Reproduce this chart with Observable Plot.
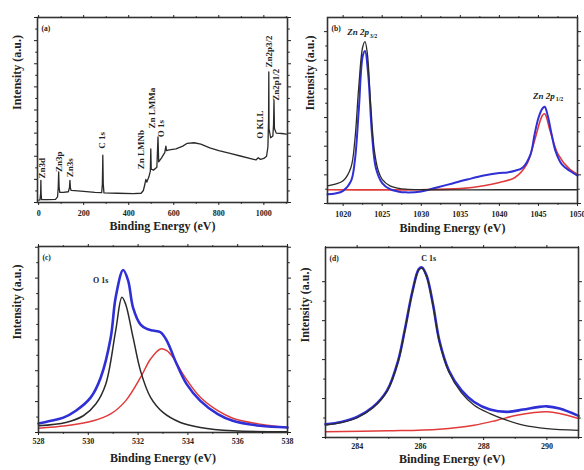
<!DOCTYPE html>
<html><head><meta charset="utf-8">
<script src="https://cdn.jsdelivr.net/npm/d3@7"></script>
<script src="https://cdn.jsdelivr.net/npm/@observablehq/plot@0.6"></script>
<style>
body{margin:0;background:#fff;}
#wrap{position:relative;width:584px;height:470px;overflow:hidden;background:#fff;}
.panel{position:absolute;}
#wrap svg, #wrap svg text{font-family:"Liberation Serif","DejaVu Serif","Times New Roman",serif !important;}
</style></head><body><div id="wrap"></div>
<script>
// ---------- (a) survey ----------
const surveyEV = [0,6,9,10,11,13,40,75,84,87,89,91,94,110,132,137,139,141,144,160,200,250,280,283,285,287,290,350,420,455,465,472,476,480,490,496,498,500,510,525,530,533,545,560,565,568,580,610,640,660,690,720,760,800,850,900,950,965,975,985,1000,1012,1018,1021,1022,1023,1030,1040,1043,1045,1047,1055,1080,1100];
const surveyI  = [1.3,1.4,5,12,5,1.6,1.5,1.7,3,8,16.6,8,5.5,5.5,5.8,8,12,8,6.5,6.4,6,5.5,5.3,10,25.6,10,5.2,5,4.8,5,6.5,10,12.5,11,14,17,29,18,17.5,19,35.5,22,24,27,30.5,28,28.5,29,30.5,32,32.3,31.5,29.5,28,26.5,25,23.5,23,24.2,23.3,23.8,25,30,45,70.6,40,35,36,42,55.3,40,37.5,37.3,37];
const surveyLabels = ["Zn3d","Zn3p","Zn3s","C 1s","Zn LMNb","Zn LMMa","O 1s","O KLL","Zn2p3/2","Zn2p1/2"];
const surveyLabelEV = [17,93,140,282,453,505,545,983,1022,1053];
const surveyLabelI  = [13,16.5,13.7,29,18,40,35.3,34.5,73,55];

// ---------- (b) Zn 2p ----------
const znBlueEV = [1018,1019,1020,1021,1021.5,1022,1022.5,1022.8,1023.2,1023.7,1024.2,1025,1026,1027,1028,1030,1032,1034,1036,1038,1040,1041,1042,1043,1044,1044.5,1045,1045.5,1045.8,1046.2,1046.7,1047.2,1048,1049,1050];
const znBlueI  = [5,5.4,6.8,12,23,50,79,82,70,37,19,11,7.7,6.5,6,6.5,8.6,10.8,13,15,16.4,16.7,17.6,19.4,26.6,37,46,51,52,47,37,28,21,17.6,15];
const znBlackEV = [1018,1019,1020,1021,1021.5,1022,1022.5,1022.8,1023.1,1023.5,1024,1024.5,1025,1026,1027,1028,1030,1040,1050];
const znBlackI  = [9.5,10.4,12.2,19.4,34,62.6,84,87,80.6,55,28.4,17.6,13,9.5,8.3,7.7,7.4,7.4,7.4];
const znRedEV = [1018,1030,1035,1038,1040,1042,1043.5,1044.5,1045.5,1045.8,1046.5,1047.5,1049,1050];
const znRedI  = [7.4,7.4,8,9.5,11.3,14,21,33.8,47.3,48.2,39,26.6,18.5,15.8];

// ---------- (c) O 1s ----------
const oBlueEV = [528,528.5,529,529.5,530.1,530.5,530.9,531.1,531.4,531.6,531.8,532.1,532.35,532.6,532.9,533.15,533.55,533.95,534.5,535.2,535.8,536.9,538];
const oBlueI  = [4.8,6.3,8,11.7,18.9,29.6,51,72.7,87.4,81.7,67,58,55.7,54.8,53.9,49.4,36.8,26,17,9.9,6.3,3.6,2.7];
const oBlackEV = [528,529.1,529.8,530.3,530.7,531.1,531.35,531.5,531.8,532.1,532.5,533,533.7,534.5,535.8,538];
const oBlackI  = [3.6,5.4,9,15.3,26,54.8,72.7,69,51,33,18.9,10.8,5.4,2.7,0.9,0.4];
const oRedEV = [528,529.1,530.2,530.9,531.5,532.1,532.5,532.9,533.15,533.4,533.8,534.5,535.2,535.8,536.9,538];
const oRedI  = [2.3,3.6,6.3,10,17,29.6,39.5,44.9,44,40.4,31.4,18.9,11.7,7.7,4.5,2.7];

// ---------- (d) C 1s ----------
const cBlueEV = [283,283.5,284,284.5,284.95,285.3,285.5,285.75,285.95,286.05,286.2,286.4,286.6,286.9,287.3,287.7,288.2,288.75,289.25,289.7,290,290.4,291];
const cBlueI  = [7,8.2,10.8,16,24.8,40.6,56,77,88.6,89.5,85,70,51,35.3,24.8,18.7,14.7,13.5,14.7,16,16.4,15.2,11.4];
const cBlackEV = [283,283.5,284,284.5,284.95,285.3,285.5,285.75,285.95,286.05,286.2,286.4,286.6,286.9,287.3,287.7,288.2,288.75,289.25,290,291];
const cBlackI  = [6.5,7.8,10.4,15.6,24.4,40.2,55.6,76.6,88.2,89.1,84.6,69.6,50.6,34.5,23.5,17,12.6,9,6.5,4.7,3.8];
const cRedEV = [283,285,286.6,287.7,288.4,289.05,289.6,290,290.4,291];
const cRedI  = [3,3.5,4.4,6.5,9,11.7,13.1,13.5,12.6,10];

// ---------- tick labels ----------
const aTicks = [0,200,400,600,800,1000], aMinor = [100,300,500,700,900,1100];
const bTicks = [1020,1025,1030,1035,1040,1045,1050], bMinor = [1022.5,1027.5,1032.5,1037.5,1042.5,1047.5];
const cTicks = [528,530,532,534,536,538], cMinor = [529,531,533,535,537];
const dTicks = [284,286,288,290], dMinor = [283,285,287,289,291];

const FONT = '"Liberation Serif","DejaVu Serif","Times New Roman",serif';
const BLUE = "#2f2fd6", RED = "#e03a3a", BLACK = "#2a2a2a";
const zip = (xs, ys) => xs.map((x, i) => ({x, y: ys[i]}));

function panel(o) {
  const yMajor = d3.range(0, 100.01, o.yStep);
  const yMinor = yMajor.slice(0, -1).map(v => v + o.yStep / 2);
  const blank = () => "";
  const marks = [
    ...o.curves.map(c => Plot.line(c.data, {x: "x", y: "y", stroke: c.color, strokeWidth: c.w, curve: c.curve || "catmull-rom"})),
    Plot.frame({stroke: "#333", strokeWidth: 1.6}),
    Plot.axisX(o.xTicks, {anchor: "bottom", tickSize: 3, tickPadding: o.tickPad, label: null, fontSize: 8, fontWeight: "bold", tickFormat: d => String(d), fontFamily: FONT}),
    Plot.axisX(o.xMinor, {anchor: "bottom", tickSize: 1.8, tickFormat: blank, label: null}),
    Plot.axisX(o.xTicks, {anchor: "top", tickSize: 3, tickFormat: blank, label: null}),
    Plot.axisX(o.xMinor, {anchor: "top", tickSize: 1.8, tickFormat: blank, label: null}),
    Plot.axisY(yMajor, {anchor: "left", tickSize: 3, tickFormat: blank, label: null}),
    Plot.axisY(yMinor, {anchor: "left", tickSize: 1.8, tickFormat: blank, label: null}),
    Plot.axisY(yMajor, {anchor: "right", tickSize: 3, tickFormat: blank, label: null}),
    Plot.axisY(yMinor, {anchor: "right", tickSize: 1.8, tickFormat: blank, label: null}),
    Plot.text(["Binding Energy (eV)"], {frameAnchor: "bottom", dy: o.titleDy, fontSize: 12, fontWeight: "bold", fill: "#222", fontFamily: FONT}),
    Plot.text(["Intensity (a.u.)"], {frameAnchor: "left", dx: -o.yTitleDx, rotate: -90, fontSize: 12, fontWeight: "bold", fill: "#222", fontFamily: FONT}),
    Plot.text([o.tag], {frameAnchor: "top-left", dx: 4, dy: 8, fontSize: 7.5, fontWeight: "bold", textAnchor: "start", fill: "#222", fontFamily: FONT}),
    ...(o.extra || [])
  ];
  const chart = Plot.plot({
    width: o.width, height: o.height,
    marginLeft: o.m[0], marginRight: o.m[1], marginTop: o.m[2], marginBottom: o.m[3],
    style: {fontFamily: FONT, background: "transparent", color: "#222", overflow: "visible"},
    x: {domain: o.xDomain},
    y: {domain: [0, 100]},
    marks
  });
  chart.classList.add("panel");
  chart.style.left = o.left + "px";
  chart.style.top = o.top + "px";
  document.getElementById("wrap").appendChild(chart);
}

// (a)
panel({
  left: 0, top: 0, width: 292, height: 235, m: [37, 5, 17, 33],
  xDomain: [-5, 1105], xTicks: aTicks, xMinor: aMinor, yStep: 12.5, tickPad: 5,
  titleDy: 27, yTitleDx: 20, tag: "(a)",
  curves: [{data: zip(surveyEV, surveyI), color: BLACK, w: 1.3, curve: "linear"}],
  extra: [
    Plot.text(surveyLabels.map((t, i) => ({t, x: surveyLabelEV[i], y: surveyLabelI[i]})),
      {x: "x", y: "y", text: "t", rotate: -90, textAnchor: "start", fontSize: 9, fontWeight: "bold", fill: "#222", fontFamily: FONT})
  ]
});

// (b)
panel({
  left: 292, top: 0, width: 292, height: 235, m: [35, 7, 17, 32],
  xDomain: [1018, 1050], xTicks: bTicks, xMinor: bMinor, yStep: 15.4, tickPad: 5,
  titleDy: 28, yTitleDx: 17, tag: "(b)",
  curves: [
    {data: zip(znRedEV, znRedI), color: RED, w: 1.6},
    {data: zip(znBlueEV, znBlueI), color: BLUE, w: 2},
    {data: zip(znBlackEV, znBlackI), color: BLACK, w: 1.3}
  ],
  extra: [
    Plot.text(["Zn 2p"], {x: [1023.3], y: [92], textAnchor: "end", fontSize: 9, fontWeight: "bold", fontStyle: "italic", fill: "#222", fontFamily: FONT}),
    Plot.text(["3/2"], {x: [1023.4], y: [90], textAnchor: "start", fontSize: 6, fontWeight: "bold", fill: "#222", fontFamily: FONT}),
    Plot.text(["Zn 2p"], {x: [1047.1], y: [58], textAnchor: "end", fontSize: 9, fontWeight: "bold", fontStyle: "italic", fill: "#222", fontFamily: FONT}),
    Plot.text(["1/2"], {x: [1047.2], y: [56], textAnchor: "start", fontSize: 6, fontWeight: "bold", fill: "#222", fontFamily: FONT})
  ]
});

// (c)
panel({
  left: 0, top: 235, width: 292, height: 235, m: [38, 5, 11, 38],
  xDomain: [528, 538], xTicks: cTicks, xMinor: cMinor, yStep: 16.6, tickPad: 3,
  titleDy: 29, yTitleDx: 21, tag: "(c)",
  curves: [
    {data: zip(oRedEV, oRedI), color: RED, w: 1.5},
    {data: zip(oBlackEV, oBlackI), color: BLACK, w: 1.5},
    {data: zip(oBlueEV, oBlueI), color: BLUE, w: 2.6}
  ],
  extra: [
    Plot.text(["O 1s"], {x: [530.5], y: [82], fontSize: 8, fontWeight: "bold", fill: "#222", fontFamily: FONT})
  ]
});

// (d)
panel({
  left: 292, top: 235, width: 292, height: 235, m: [33, 6, 12, 33],
  xDomain: [283, 291], xTicks: dTicks, xMinor: dMinor, yStep: 20.5, tickPad: 3,
  titleDy: 25, yTitleDx: 20, tag: "(d)",
  curves: [
    {data: zip(cRedEV, cRedI), color: RED, w: 1.5},
    {data: zip(cBlueEV, cBlueI), color: BLUE, w: 2.6},
    {data: zip(cBlackEV, cBlackI), color: BLACK, w: 1.3}
  ],
  extra: [
    Plot.text(["C 1s"], {x: [286.26], y: [94.5], fontSize: 8, fontWeight: "bold", fill: "#222", fontFamily: FONT})
  ]
});
</script></body></html>
